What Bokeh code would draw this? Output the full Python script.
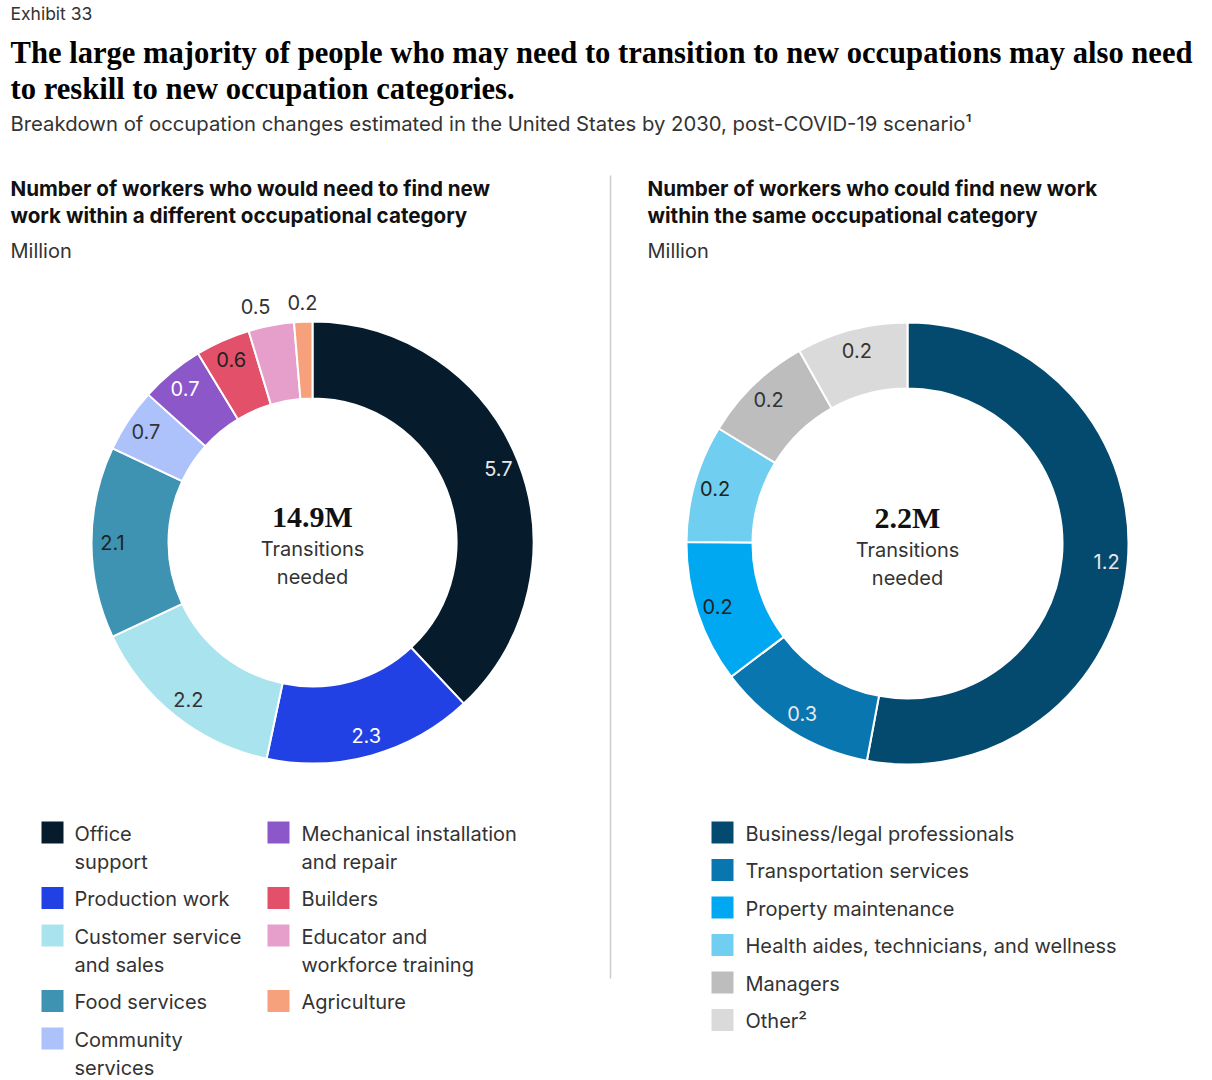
import math
from bokeh.plotting import figure
from bokeh.models import Range1d, ColumnDataSource
from bokeh.core.properties import value
from bokeh.embed import file_html
from bokeh.resources import INLINE

# ---------------- data ----------------
left_categories = ["Office\nsupport", "Production work", "Customer service\nand sales", "Food services",
                   "Community\nservices", "Mechanical installation\nand repair", "Builders",
                   "Educator and\nworkforce training", "Agriculture"]
left_values = [5.7, 2.3, 2.2, 2.1, 0.7, 0.7, 0.6, 0.5, 0.2]
left_colors = ["#061c2c", "#2241e5", "#a9e3ee", "#3e93b2", "#adc2fb", "#8b57c9", "#e3506a", "#e59fca", "#f7a07c"]
left_label_colors = ["#e8e8e8", "#ffffff", "#333333", "#222222", "#333333", "#ffffff", "#222222", "#333333", "#333333"]
left_total = "14.9M"

right_categories = ["Business/legal professionals", "Transportation services", "Property maintenance",
                    "Health aides, technicians, and wellness", "Managers", "Other\u00b2"]
right_values = [1.17, 0.26, 0.23, 0.19, 0.18, 0.18]
right_colors = ["#044a6e", "#0a76b0", "#00a8f2", "#70cff0", "#bdbdbd", "#dadada"]
right_label_colors = ["#e8e8e8", "#e8e8e8", "#222222", "#222222", "#333333", "#333333"]
right_total = "2.2M"

W, H = 1212, 1080
SANS = "Inter"
SERIF = "Liberation Serif"


def X(ix):
    return ix


def Y(iy):
    return H - iy


p = figure(width=W, height=H, output_backend="svg", toolbar_location=None,
           x_range=Range1d(0, W), y_range=Range1d(0, H), min_border=0)
p.axis.visible = False
p.grid.visible = False
p.outline_line_color = None
p.background_fill_color = "white"


def txt(x, y, s, size, color="#222222", font=SANS, style="normal", align="left", step=28):
    for i, line in enumerate(s.split("\n")):
        p.text(x=[X(x)], y=[Y(y + i * step)], text=[line], text_font=value(font),
               text_font_size=f"{size}px", text_font_style=style, text_color=color,
               text_align=align, text_baseline="middle")


# headers
txt(10, 13, "Exhibit 33", 17.5, "#333333")
txt(10, 52, "The large majority of people who may need to transition to new occupations may also need", 30.6,
    "#000000", SERIF, "bold")
txt(10, 88, "to reskill to new occupation categories.", 30.6, "#000000", SERIF, "bold")
txt(10, 123, "Breakdown of occupation changes estimated in the United States by 2030, post-COVID-19 scenario\u00b9",
    20.3, "#333333")

txt(10, 188, "Number of workers who would need to find new\nwork within a different occupational category", 20.6,
    "#111111", style="bold", step=27)
txt(10, 250, "Million", 20, "#333333")
txt(647, 188, "Number of workers who could find new work\nwithin the same occupational category", 20.6,
    "#111111", style="bold", step=27)
txt(647, 250, "Million", 20, "#333333")

# divider
p.segment(x0=[X(610)], y0=[Y(175)], x1=[X(610)], y1=[Y(978)], line_color="#cccccc", line_width=1.5)


def donut(cx, cy, r_in, r_out, values, colors, label_colors, total):
    s = sum(values)
    cum = 0.0
    starts, ends, lx, ly, labs = [], [], [], [], []
    for v in values:
        a0 = math.pi / 2 - 2 * math.pi * cum / s
        a1 = math.pi / 2 - 2 * math.pi * (cum + v) / s
        starts.append(a0)
        ends.append(a1)
        mid = (a0 + a1) / 2
        outside = v / s < 0.04
        rl = 240 if outside else 200
        dx = -12 if (outside and v / s > 0.02) else 0
        lx.append(X(cx) + rl * math.cos(mid) + dx)
        ly.append(Y(cy) + rl * math.sin(mid))
        labs.append(f"{v:.1f}")
        cum += v
    src = ColumnDataSource(dict(s=starts, e=ends, c=colors))
    p.annular_wedge(x=X(cx), y=Y(cy), inner_radius=r_in, outer_radius=r_out, start_angle="s",
                    end_angle="e", direction="clock", fill_color="c", line_color="white",
                    line_width=2, source=src)
    p.text(x=lx, y=ly, text=labs, text_color=label_colors, text_font=value(SANS),
           text_font_size="20px", text_align="center", text_baseline="middle")
    txt(cx, cy - 26, total, 30, "#111111", SERIF, "bold", "center")
    txt(cx, cy + 6, "Transitions\nneeded", 20, "#333333", align="center", step=28)


donut(312, 542, 144, 221, left_values, left_colors, left_label_colors, left_total)
donut(907, 543, 155, 221, right_values, right_colors, right_label_colors, right_total)


def legend(items, colors, sx, tx, y0, step=37.5, line=28):
    y = y0
    for name, col in zip(items, colors):
        p.rect(x=[X(sx + 11)], y=[Y(y)], width=22, height=22, fill_color=col, line_color=None)
        txt(tx, y + 1, name, 20, "#333333", step=line)
        y += line * name.count("\n") + step


legend(left_categories[:5], left_colors[:5], 41, 74, 832)
legend(left_categories[5:], left_colors[5:], 267, 301, 832)
legend(right_categories, right_colors, 711, 745, 832)

open("out.html", "w").write(file_html(p, INLINE))
